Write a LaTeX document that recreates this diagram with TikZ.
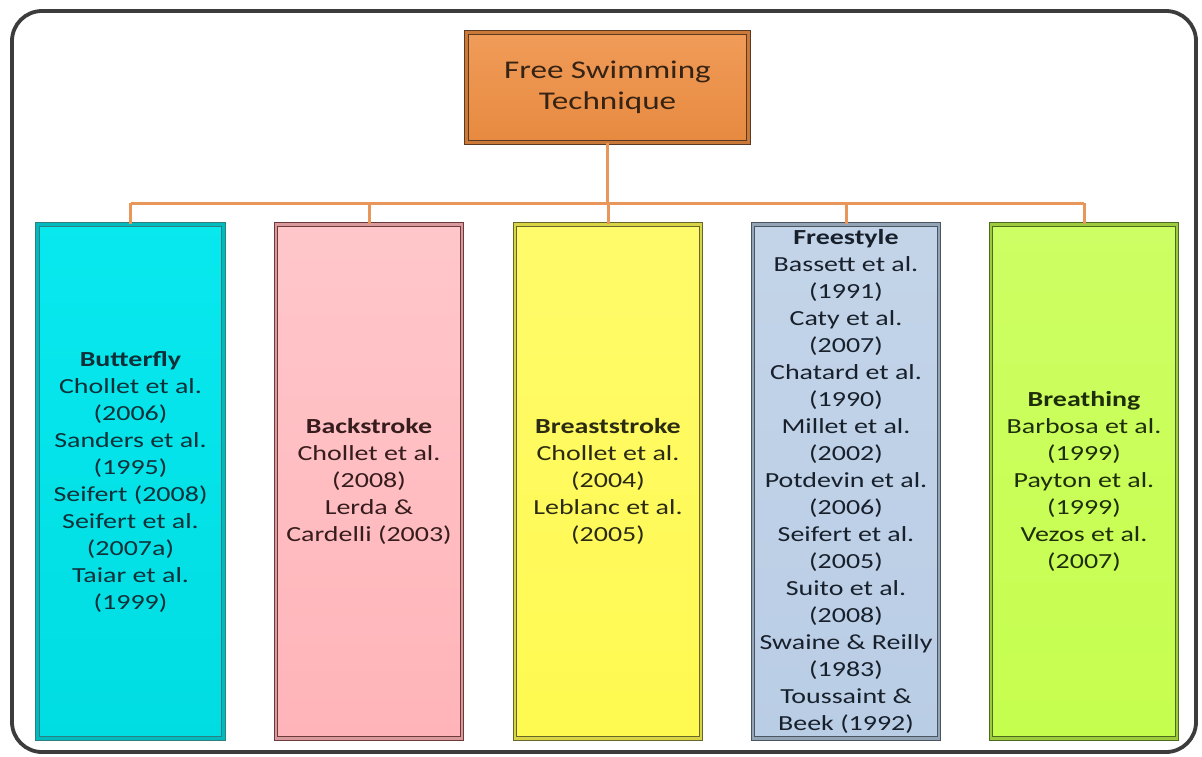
\documentclass[tikz,border=0pt]{standalone}
\usepackage{fontspec}
\setmainfont{Carlito}
\newfontfamily\boxfont[FakeStretch=1.3]{Carlito}
\definecolor{conncol}{HTML}{E8965A}
\definecolor{framecol}{HTML}{3C3C3C}
\definecolor{orfill}{HTML}{EE8E42}
\definecolor{orline}{HTML}{5A3A22}
\definecolor{cyfill}{HTML}{00E8EE}
\definecolor{cyline}{HTML}{2E7F80}
\definecolor{cytext}{HTML}{0E3038}
\definecolor{pkfill}{HTML}{FFB4B9}
\definecolor{pkline}{HTML}{6B3A3A}
\definecolor{pktext}{HTML}{361C1C}
\definecolor{ylfill}{HTML}{FFFA50}
\definecolor{ylline}{HTML}{66662A}
\definecolor{yltext}{HTML}{2B2B14}
\definecolor{blfill}{HTML}{B9CDE5}
\definecolor{blline}{HTML}{4A5560}
\definecolor{bltext}{HTML}{18202C}
\definecolor{lmfill}{HTML}{C6FE4E}
\definecolor{lmline}{HTML}{4B6B1E}
\definecolor{lmtext}{HTML}{1F2E0A}
\tikzset{
  colbox/.style={rectangle, minimum width=186, minimum height=514, inner sep=0,
    line width=1.1, double distance=2.6, align=center,
    font=\boxfont\fontsize{21.5}{27}\selectfont},
  conn/.style={draw=conncol, line width=3},
}
\begin{document}
\begin{tikzpicture}[x=1pt,y=-1pt]
\useasboundingbox (0,0) rectangle (1202,756);
\draw[framecol, line width=3.8, rounded corners=30] (12,11) rectangle (1196,752);
\node[rectangle, minimum width=282, minimum height=110, inner sep=0,
  line width=1.1, double distance=2.4, draw=orline, double=orfill!85!black,
  top color=orfill!88!white, bottom color=orfill!97!black, align=center,
  text=orline!60!black, font=\boxfont\fontsize{25.5}{31}\selectfont]
  (title) at (607.5,87.5) {Free Swimming\\Technique};
\coordinate (bus) at (607.5,203);
\node[colbox, draw=cyline, double=cyfill!80!black, top color=cyfill!97!white, bottom color=cyfill!95!black, text=cytext]
  (b1) at (130.5,481.5) {\textbf{Butterfly}\\Chollet et al.\\(2006)\\Sanders et al.\\(1995)\\Seifert (2008)\\Seifert et al.\\(2007a)\\Taiar et al.\\(1999)};
\node[colbox, draw=pkline, double=pkfill!85!black, top color=pkfill!75!white, bottom color=pkfill, text=pktext]
  (b2) at (369,481.5) {\textbf{Backstroke}\\Chollet et al.\\(2008)\\Lerda \&\\Cardelli (2003)};
\node[colbox, draw=ylline, double=ylfill!85!black, top color=ylfill!85!white, bottom color=ylfill, text=yltext]
  (b3) at (608,481.5) {\textbf{Breaststroke}\\Chollet et al.\\(2004)\\Leblanc et al.\\(2005)};
\node[colbox, draw=blline, double=blfill!80!black, top color=blfill!85!white, bottom color=blfill, text=bltext]
  (b4) at (846,481.5) {\textbf{Freestyle}\\Bassett et al.\\(1991)\\Caty et al.\\(2007)\\Chatard et al.\\(1990)\\Millet et al.\\(2002)\\Potdevin et al.\\(2006)\\Seifert et al.\\(2005)\\Suito et al.\\(2008)\\Swaine \& Reilly\\(1983)\\Toussaint \&\\Beek (1992)};
\node[colbox, draw=lmline, double=lmfill!80!black, top color=lmfill!88!white, bottom color=lmfill, text=lmtext]
  (b5) at (1084,481.5) {\textbf{Breathing}\\Barbosa et al.\\(1999)\\Payton et al.\\(1999)\\Vezos et al.\\(2007)};
\draw[conn] (title.south) -- (bus);
\draw[conn] (b1.north |- bus) -- (b5.north |- bus);
\foreach \b in {b1,b2,b3,b4,b5} \draw[conn] (\b.north |- bus) -- (\b.north);
\end{tikzpicture}
\end{document}
